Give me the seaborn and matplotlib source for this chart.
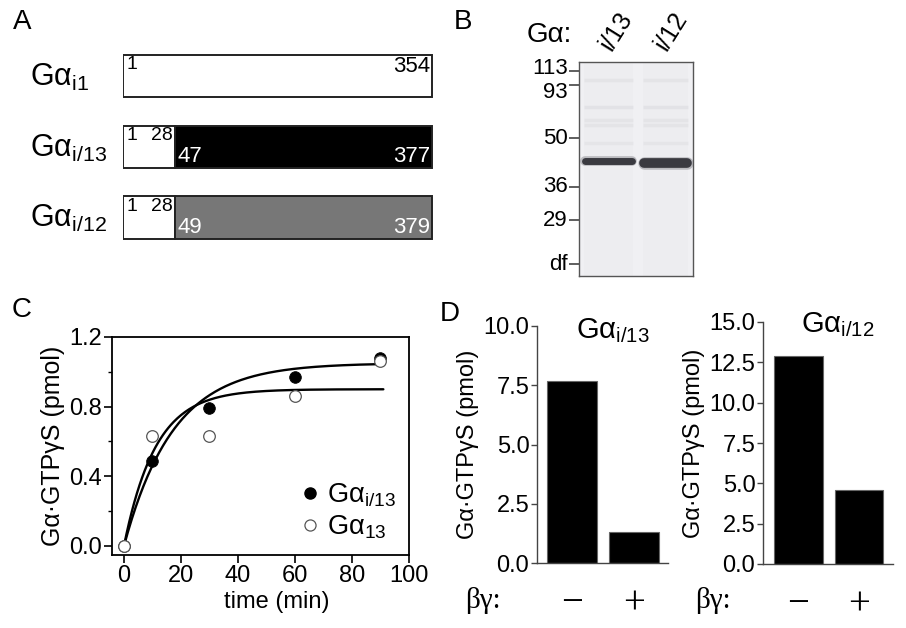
import matplotlib
matplotlib.use("Agg")
import matplotlib.pyplot as plt
from matplotlib.lines import Line2D
import numpy as np
import seaborn as sns

# ------------------------------------------------------------
# Data
# ------------------------------------------------------------
# Panel A: construct maps (schematic segment lengths)
construct_names = ["Gα$_{\\mathrm{i1}}$", "Gα$_{\\mathrm{i/13}}$", "Gα$_{\\mathrm{i/12}}$"]
nterm_len = [309, 52, 52]
cterm_len = [0, 257, 257]
cterm_colors = ["white", "black", "#777777"]
nterm_start = ["1", "1", "1"]
nterm_end = ["354", "28", "28"]
cterm_start = ["", "47", "49"]
cterm_end = ["", "377", "379"]

# Panel B: gel (migration distance from top of gel, arbitrary units)
gel_lanes = ["i/13", "i/12"]
mw_labels = ["113", "93", "50", "36", "29", "df"]
mw_pos = [9, 23, 76, 125, 158, 202]
main_band_pos = [99, 100.5]
main_band_lw = [5.0, 7.0]
faint_band_pos = [18, 45, 58, 63, 81]
faint_band_alpha = [0.06, 0.07, 0.06, 0.06, 0.05]

# Panel C: time course
time_min = [0, 10, 30, 60, 90]
gi13_pmol = [0.0, 0.49, 0.79, 0.97, 1.08]
g13_pmol = [0.0, 0.63, 0.63, 0.86, 1.06]
fit_amp = [1.05, 0.90]     # plateau of fitted curves (Gai/13, Ga13)
fit_rate = [0.058, 0.09]   # rate constant (1/min)
fit_tmax = 91

# Panel D: betagamma effect
bg_labels = ["−", "+"]
gi13_bg = [7.7, 1.3]
gi12_bg = [12.9, 4.6]

# ------------------------------------------------------------
sns.set_theme(style="ticks")
plt.rcParams["font.family"] = ["Liberation Sans", "DejaVu Sans"]
plt.rcParams["mathtext.fontset"] = "custom"
plt.rcParams["mathtext.rm"] = "Liberation Sans"
plt.rcParams["mathtext.it"] = "Liberation Sans:italic"
plt.rcParams["mathtext.bf"] = "Liberation Sans:bold"
for key in ["text.color", "axes.labelcolor", "xtick.color", "ytick.color", "axes.edgecolor"]:
    plt.rcParams[key] = "black"

W, H = 906, 628
fig = plt.figure(figsize=(W / 100, H / 100), dpi=100)


def px_box(x0, y0, x1, y1):
    return [x0 / W, 1 - y1 / H, (x1 - x0) / W, (y1 - y0) / H]


def fx(x):
    return x / W


def fy(y):
    return 1 - y / H


# panel letters
for letter, (x, y) in {"A": (22, 22), "B": (463, 22), "C": (22, 310), "D": (450, 314)}.items():
    fig.text(fx(x), fy(y), letter, fontsize=20, ha="center", va="center")

# ============================================================
# A — construct schematics
# ============================================================
axA = fig.add_axes(px_box(123, 50, 433, 245))
rows = np.arange(len(construct_names))
axA.barh(rows, nterm_len, height=0.6, color="white", edgecolor="#222222", lw=1.4)
for i in rows:
    if cterm_len[i] > 0:
        axA.barh(i, cterm_len[i], left=nterm_len[i], height=0.6,
                 color=cterm_colors[i], edgecolor="#222222", lw=1.4)
    axA.text(-93, i + 0.02, construct_names[i], fontsize=22, ha="left", va="center")
    axA.text(3, i - 0.28, nterm_start[i], fontsize=14, ha="left", va="top")
    if cterm_len[i] > 0:
        axA.text(nterm_len[i] - 2, i - 0.28, nterm_end[i], fontsize=14, ha="right", va="top")
        axA.text(nterm_len[i] + 2, i + 0.29, cterm_start[i], fontsize=16, ha="left",
                 va="bottom", color="white")
        axA.text(nterm_len[i] + cterm_len[i] - 2, i + 0.29, cterm_end[i], fontsize=16,
                 ha="right", va="bottom", color="white")
    else:
        axA.text(nterm_len[i] - 2, i - 0.28, nterm_end[i], fontsize=16, ha="right", va="top")
axA.set_xlim(0, 310)
axA.set_ylim(2.39, -0.37)
axA.axis("off")

# ============================================================
# B — Coomassie gel
# ============================================================
axB = fig.add_axes(px_box(579, 62, 693, 276))
axB.set_facecolor("#f0f0f3")
axB.set_xlim(0, 114)
axB.set_ylim(214, 0)
lane_left = [5, 64]
lane_right = [54, 109]
for j in range(len(gel_lanes)):
    axB.axvspan(lane_left[j], lane_right[j], color="#dcdce2", alpha=0.15, lw=0)
    for pos, a in zip(faint_band_pos, faint_band_alpha):
        axB.plot([lane_left[j], lane_right[j]], [pos, pos], color="#555566",
                 alpha=a, lw=2.5, solid_capstyle="butt")
    axB.plot([lane_left[j] + 1, lane_right[j] - 1], [main_band_pos[j]] * 2,
             color="#8a8a90", lw=main_band_lw[j] + 2, alpha=0.5, solid_capstyle="round")
    axB.plot([lane_left[j] + 1, lane_right[j] - 1], [main_band_pos[j]] * 2,
             color="#3a3a40", lw=main_band_lw[j], solid_capstyle="round")
axB.set_yticks(mw_pos, [""] * len(mw_pos))
axB.set_xticks([])
axB.tick_params(axis="y", length=7, width=1.1, color="#333333")
label_shift = {"113": -2, "93": 8}
for pos, lab in zip(mw_pos, mw_labels):
    axB.text(-11, pos + label_shift.get(lab, 0), lab, fontsize=16, ha="right",
             va="center", clip_on=False)
for s in axB.spines.values():
    s.set_color("#555555")
    s.set_linewidth(1.0)
fig.text(fx(527), fy(35), "Gα:", fontsize=20, ha="left", va="center")
fig.text(fx(616), fy(31), gel_lanes[0], fontsize=18, ha="center", va="center", rotation=58)
fig.text(fx(671), fy(31), gel_lanes[1], fontsize=18, ha="center", va="center", rotation=58)

# ============================================================
# C — time course
# ============================================================
axC = fig.add_axes(px_box(112, 337, 409, 555))
t_fit = np.linspace(0, fit_tmax, 200)
for amp, k in zip(fit_amp, fit_rate):
    sns.lineplot(x=t_fit, y=amp * (1 - np.exp(-k * t_fit)), color="black", lw=1.7, ax=axC)
sns.scatterplot(x=time_min, y=gi13_pmol, color="black", s=70, edgecolor="black",
                linewidth=0.6, zorder=3, ax=axC)
sns.scatterplot(x=time_min, y=g13_pmol, color="white", s=70, edgecolor="#555555",
                linewidth=0.9, zorder=4, ax=axC)
axC.set_xlim(-4.2, 100)
axC.set_ylim(-0.052, 1.2)
axC.set_xticks([0, 20, 40, 60, 80, 100])
axC.set_yticks([0.0, 0.4, 0.8, 1.2], ["0.0", "0.4", "0.8", "1.2"])
axC.set_yticks([0.2, 0.6, 1.0], minor=True)
axC.tick_params(axis="both", which="major", length=5.5, width=1.2, labelsize=17, pad=1.5)
axC.tick_params(axis="y", which="minor", length=3, width=1.0, left=True)
for s in axC.spines.values():
    s.set_linewidth(1.3)
fig.text(fx(277), fy(602), "time (min)", fontsize=17, ha="center", va="center")
axC.set_ylabel("Gα·GTPγS (pmol)", fontsize=18, labelpad=3)
handles = [
    Line2D([], [], marker="o", ls="", color="black", markersize=8),
    Line2D([], [], marker="o", ls="", markerfacecolor="white", markeredgecolor="#555555",
           markeredgewidth=0.9, markersize=8),
]
axC.legend(handles, ["Gα$_{\\mathrm{i/13}}$", "Gα$_{\\mathrm{13}}$"], loc="lower right",
           frameon=False, fontsize=19.5, handletextpad=0.1, labelspacing=0.2,
           borderaxespad=0.1, handlelength=1.0)

# ============================================================
# D — betagamma
# ============================================================
def bg_panel(box, values, ymax, yticks, title, title_xy, bg_x, xlim):
    ax = fig.add_axes(px_box(*box))
    sns.barplot(x=bg_labels, y=values, color="black", saturation=1, width=0.8,
                edgecolor="#666666", linewidth=0.8, ax=ax)
    ax.set_ylim(0, ymax)
    ax.set_xlim(*xlim)
    ax.set_yticks(yticks, [f"{v:.1f}" for v in yticks])
    ax.tick_params(axis="y", length=4, width=1.0, labelsize=17, pad=1.5, color="#444444")
    ax.tick_params(axis="x", length=0, labelsize=28, pad=16)
    for lab in ax.get_xticklabels():
        lab.set_family(["Liberation Serif", "DejaVu Serif"])
    sns.despine(ax=ax)
    for s in ["left", "bottom"]:
        ax.spines[s].set_linewidth(1.0)
        ax.spines[s].set_color("#444444")
    ax.set_ylabel("Gα·GTPγS (pmol)", fontsize=17, labelpad=3)
    ax.set_xlabel("")
    fig.text(fx(title_xy[0]), fy(title_xy[1]), title, fontsize=21, ha="center", va="center")
    fig.text(fx(bg_x), fy(600), "βγ:", fontsize=21, ha="left", va="center",
             family=["Liberation Serif", "DejaVu Serif"])
    return ax


bg_panel((537, 326, 668, 563), gi13_bg, 10, [0.0, 2.5, 5.0, 7.5, 10.0],
         "Gα$_{\\mathrm{i/13}}$", (613, 331), 465, (-0.565, 1.55))
bg_panel((763, 322, 893, 564), gi12_bg, 15, [0.0, 2.5, 5.0, 7.5, 10.0, 12.5, 15.0],
         "Gα$_{\\mathrm{i/12}}$", (838, 325), 695, (-0.585, 1.56))

fig.savefig("out.png", dpi=100)
